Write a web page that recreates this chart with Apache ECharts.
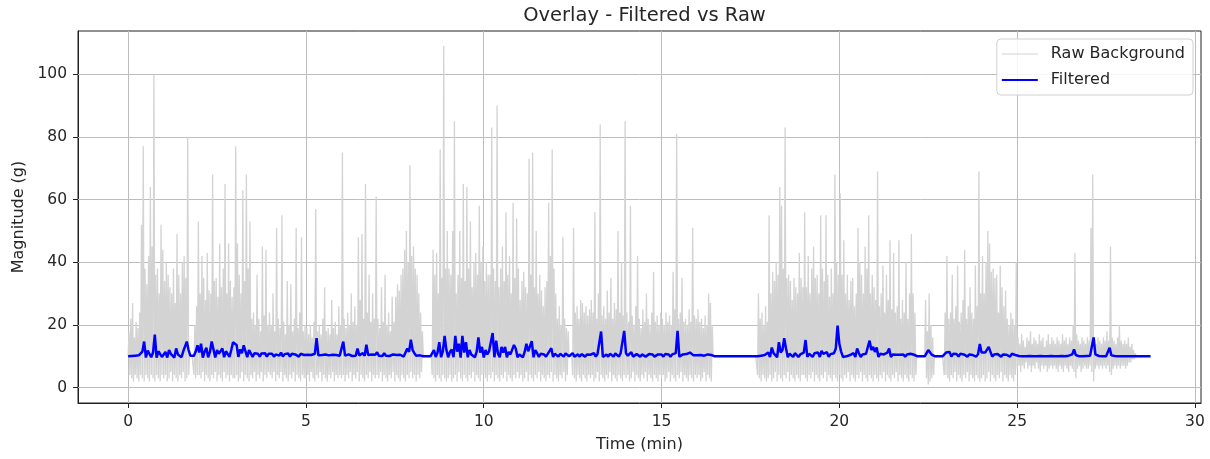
<!DOCTYPE html>
<html>
<head>
<meta charset="utf-8">
<script src="https://cdn.jsdelivr.net/npm/echarts@6/dist/echarts.min.js"></script>
<style>
html,body{margin:0;padding:0;background:#fff;}
#chart{width:1210px;height:459px;}
</style>
</head>
<body>
<div id="chart"></div>
<script>
// Sample spacing (minutes)
const rawStepMin = 0.025;
const filteredStepMin = 0.05;

// Raw magnitude (g), one row per minute (40 samples per row)
const rawMagnitude = [
  10,18,4,22,3,27,2,16,4,21,3,19,2,24,4,52,3,77,2,38,4,33,3,42,2,64,4,45,3,100,2,36,4,38,3,30,2,52,4,44,   // 0
  3,34,4,40,2,36,3,32,5,30,2,38,4,27,3,49,2,36,4,30,3,40,5,42,2,35,3,80,4,10,10,10,10,10,4,20,3,26,4,53,   // 1
  4,30,3,42,5,35,2,28,4,43,3,31,2,30,4,68,3,34,5,35,2,29,4,46,3,32,2,38,5,65,3,30,4,46,2,34,4,29,3,32,     // 2
  3,77,4,46,2,36,3,30,5,63,2,34,4,68,3,38,2,53,4,22,3,24,5,20,2,36,4,22,3,18,5,45,2,23,4,44,3,20,5,24,     // 3
  4,20,3,30,5,18,2,51,4,22,3,19,5,55,2,21,4,17,3,34,2,20,4,33,3,18,5,22,2,51,4,19,3,24,2,48,4,18,3,20,     // 4
  3,19,4,17,2,20,5,16,3,21,2,57,4,18,3,20,5,17,2,22,4,32,3,18,2,19,4,17,3,28,5,19,2,21,4,17,3,26,4,20,     // 5
  3,75,4,22,2,19,4,24,3,20,5,30,2,21,4,26,3,20,5,48,2,28,4,49,3,22,2,65,4,24,3,36,5,21,2,30,4,22,3,61,     // 6
  4,22,3,19,5,32,2,21,4,36,3,20,2,24,4,18,3,29,5,21,2,29,4,33,3,31,2,36,4,38,3,44,2,50,4,40,3,71,5,42,     // 7
  3,45,4,38,2,36,4,30,3,24,5,18,10,10,10,10,10,10,10,10,10,10,4,44,3,36,2,43,4,30,3,76,2,35,4,109,3,38,2,50, // 8
  3,38,4,36,2,50,3,85,4,30,2,36,5,50,3,35,2,65,4,34,3,64,2,38,4,53,3,32,5,40,2,43,4,36,3,58,2,40,4,45,     // 9
  4,34,3,40,2,36,4,36,3,83,5,38,2,34,4,90,3,32,2,38,4,45,3,34,5,56,2,36,4,42,3,30,2,59,4,35,3,54,5,38,     // 10
  3,28,4,34,2,37,3,32,5,30,2,73,4,36,3,75,2,32,4,50,3,30,5,36,2,31,4,26,3,32,2,34,4,59,3,42,5,76,2,38,     // 11
  4,30,3,22,2,26,4,20,3,48,5,22,2,19,4,18,10,10,10,10,4,51,3,24,2,26,4,22,3,28,2,27,4,24,3,26,2,23,4,25,   // 12
  3,28,4,24,2,56,3,22,5,30,2,84,4,23,3,26,2,22,4,31,3,24,5,35,2,22,4,27,3,25,2,50,4,24,3,40,2,23,4,85,     // 13
  3,24,4,21,2,58,3,23,5,20,2,26,4,42,3,22,2,19,4,25,3,21,5,30,2,22,4,20,3,24,2,37,4,21,3,23,2,20,4,24,     // 14
  3,22,4,20,2,24,3,21,5,23,2,20,4,37,3,25,2,81,4,22,3,24,5,35,2,21,4,22,3,20,2,25,4,21,3,51,2,23,4,22,     // 15
  3,25,4,21,2,22,3,19,5,23,2,20,4,30,3,27,2,20,10,10,10,10,10,10,10,10,10,10,10,10,10,10,10,10,10,10,10,10,10,10, // 16
  10,10,10,10,10,10,10,10,10,10,10,10,10,10,10,10,10,10,10,10,10,10,10,10,10,10,10,10,4,30,3,22,2,24,4,20,3,26,2,21, // 17
  3,55,4,30,2,37,3,34,5,40,2,36,4,64,3,58,2,38,4,83,3,35,5,36,2,34,4,28,3,35,2,32,4,30,3,43,2,35,4,32,     // 18
  4,56,3,32,2,42,4,30,3,38,5,45,2,35,4,36,3,30,2,55,4,38,3,34,5,55,2,36,4,29,3,38,2,30,4,68,3,40,2,36,     // 19
  4,62,3,36,2,47,4,30,3,36,5,28,2,34,4,35,3,26,2,30,4,51,3,40,5,36,2,30,4,45,3,38,2,55,4,30,3,36,2,32,     // 20
  4,28,3,69,2,26,4,30,3,39,5,24,2,36,4,28,3,47,2,25,4,43,3,24,5,26,2,47,4,22,3,28,2,24,4,40,3,22,2,30,     // 21
  4,49,3,30,2,24,4,10,10,10,10,10,10,10,10,10,10,28,3,18,1,30,2,20,3,16,4,10,10,10,10,10,10,10,10,10,10,10,4,24, // 22
  4,42,3,22,2,24,4,36,3,22,5,26,2,39,4,21,3,24,2,28,4,44,3,22,5,26,2,32,4,24,3,22,2,39,4,26,3,69,2,30,     // 23
  3,42,4,30,2,40,3,50,5,46,2,37,4,38,3,35,2,36,4,24,3,39,5,32,2,26,4,31,3,22,2,20,4,24,3,22,2,20,4,40,     // 24
  6,16,7,14,5,17,7,15,6,13,8,16,6,15,7,18,5,14,7,16,6,15,8,14,6,17,5,15,7,16,6,13,7,15,5,17,6,14,7,16,     // 25
  6,15,7,14,6,16,5,15,7,14,6,17,5,15,7,16,6,14,5,16,7,15,6,20,5,43,3,17,6,15,7,14,5,16,6,15,7,14,6,16,     // 26
  6,15,7,51,5,68,2,16,6,14,7,16,6,15,7,14,6,16,7,15,6,18,7,15,5,45,4,16,6,15,7,14,6,16,7,20,6,15,7,14,     // 27
  7,15,6,14,7,16,8,13,8,14,9,12,9,11,10,10,10,10,10,10,10,10,10,10,10,10,10,10,10,10,10                    // 28
];

// Filtered magnitude (g), 0.05-min samples
const filteredMagnitude = [
  10,10,10.1,10,10.2,10,10.3,9.8,11.5,14.7,9.6,11.8,12,9.7,11.2,16.9,9.6,11.6,11.2,9.8,
  10.6,11.4,9.6,12,10.8,11.2,9.6,12.5,10.6,11.2,9.7,11.6,11.9,14.7,12,10.2,10,10.2,11.5,13.5,
  11.2,14,9.6,11.5,12.7,9.7,11.4,14.7,12.2,9.6,12,10.8,11.2,12.5,9.7,11.6,12.2,9.8,12,14.5,
  14.2,13.6,9.8,12.2,11,13.5,13.2,9.7,12,11.4,9.8,11,10.4,10.8,9.9,10.9,10.4,11,9.9,10.8,
  10.3,10.8,9.9,10.6,11,10.2,11.2,9.9,10.7,10.2,10.9,9.9,10.8,10.2,10.6,11.2,9.9,10.8,10.2,10.4,
  10.2,10.5,10.1,10.4,10.2,10.8,15.8,10.3,10.2,10.4,10.1,10.6,10.2,10.3,10.1,10.5,10.2,10.4,10.3,10.2,
  10.3,14.7,10.2,10.2,10.6,10.8,10.1,10.5,10.2,12.5,10.3,10.3,11,10.2,13.7,10.4,10.4,10.6,10.3,10.5,
  11.3,10.2,10.6,10.1,11,10.2,10.6,10.1,10.5,10.6,10.1,10.4,10.2,10.5,11,9.9,11.2,12.5,11.4,15.3,
  12,11,10.2,10.6,10.3,10.1,10,10,10,10,10,10.3,12,9.8,11.2,14.5,9.7,11.6,16.5,12,
  9.7,11.4,12.2,9.7,16.5,11.5,14,9.6,16.5,11.2,14.5,9.7,12,10.6,11,9.7,11.4,16,11.2,13,
  9.6,12,10.6,11.6,11.2,17.4,9.7,15,10.8,9.7,13,11.2,13,9.7,11.4,10.6,11.2,13.6,12.5,9.7,
  10.6,11.2,9.7,11.4,14,11.6,12.2,14.8,9.7,12,11,9.8,10.8,10.4,10.6,9.9,10.8,11.2,12.6,9.8,
  10.8,11,9.9,10.8,11,9.9,10.9,10.4,10,10.1,11,9.9,10.3,10.6,9.9,10.7,10.5,9.9,10.6,10.4,
  10.5,10.7,11,9.9,10.8,10.6,17.9,9.8,10.4,10.6,9.9,10.8,11,9.9,10.9,11.5,9.9,11,10.7,18.1,
  11,10.2,10.8,11.3,9.9,10.5,10.7,10.9,9.9,10.6,10.7,9.9,10.5,10.7,10.4,10.6,9.9,10.4,10.6,
  10.5,10.6,9.9,10.7,10.5,10.6,9.9,10.6,10.8,11,18.1,9.9,10.5,10.6,10.4,10.7,10.9,11.2,11.7,10.3,
  10.6,10.3,10.7,10.4,10.6,10.2,10.4,10.6,10.2,10.4,10.2,10,10,10,10,10,10,10,10,10,
  10,10,10,10,10,10,10,10,10,10,10,10,10,10,10,10,10.4,10.2,10.6,10.4,
  10.8,11.2,9.8,12.8,11,11.6,9.7,14.5,11.2,12,15.8,12.5,9.7,10.8,11,9.8,11,10.7,9.8,10.6,
  10.8,11.2,15.2,9.8,10.8,11.2,9.8,11,10.8,11.2,9.8,11.7,10.8,11,11.3,9.8,10.7,10.5,11,12.5,
  19.8,14,11.5,9.8,10.4,10,10.6,10.4,10.8,11,9.8,12.5,11,9.8,10.6,11.2,10.8,11.4,15,12,
  13,11.4,12.8,9.8,10.8,11.2,10.6,10.9,11.2,12.5,9.8,10.6,10.7,10.5,9.9,10.5,10.4,10.6,9.9,10.6,
  10.6,10.8,11,10.5,10.3,10,10,10,10,10,10.2,12,11.8,10.5,10.3,10,10,10,10,10,
  10.2,11.2,10.8,11.4,9.9,10.8,10.5,10.7,9.9,10.8,10.5,10.6,10.8,9.9,10.6,10.5,10.4,10.6,9.9,10.7,
  13.9,11.2,10.8,11.2,11,13,11.4,9.9,10.6,10.5,10.7,10.4,9.9,10.6,10.4,10.5,10.6,9.9,10.8,11,
  10.4,10.2,10.1,10,10,10.1,10,10,10.1,10,10,10.1,10,10,10.1,10,10,10.1,10,
  10,10.1,10,10,10.1,10,10,10.1,10,10,10.1,10.2,10.3,10.6,12.2,10.4,10.1,10,10,10,
  10,10.1,10,10.2,10.6,16,10.6,10.2,10.1,10,10,10.1,10,10.4,12.7,10.3,10,10.1,10,10,
  10,10,10,10,10,10,10,10,10,10,10,10,10,10,10,10,10,10
];

// Axis ticks and ranges
const xTicks = [0, 5, 10, 15, 20, 25, 30];
const yTicks = [0, 20, 40, 60, 80, 100];
const xRange = [-1.41, 30.17];
const yRange = [-4.9, 113.8];

const toPairs = (arr, step) => arr.map((v, i) => [Math.round(i * step * 1000) / 1000, v]);

const FONT = 'DejaVu Sans';
const TXT = '#262626';

const chart = echarts.init(document.getElementById('chart'), null, {renderer: 'canvas'});
chart.setOption({
  animation: false,
  backgroundColor: '#ffffff',
  title: {
    text: 'Overlay - Filtered vs Raw',
    left: 639.5,
    textAlign: 'center',
    top: 1,
    textStyle: {fontFamily: FONT, fontSize: 19.5, fontWeight: 'normal', color: TXT}
  },
  grid: {
    left: 78, right: 9, top: 31, bottom: 56,
    show: true, borderColor: '#222', borderWidth: 1, backgroundColor: 'transparent'
  },
  legend: {
    orient: 'vertical',
    right: 17, top: 39,
    padding: [6, 8, 6, 4],
    itemWidth: 36, itemHeight: 14, itemGap: 8,
    backgroundColor: 'rgba(255,255,255,0.85)',
    borderColor: '#d0d0d0', borderWidth: 1, borderRadius: 4,
    itemStyle: {opacity: 0},
    data: [
      {name: 'Raw Background', lineStyle: {width: 1, color: '#d3d3d3'}},
      {name: 'Filtered', lineStyle: {width: 2, color: '#0000ff'}}
    ],
    textStyle: {fontFamily: FONT, fontSize: 16, color: TXT, lineHeight: 18, padding: [0, 0, 0, 8]}
  },
  xAxis: {
    type: 'value', min: xRange[0], max: xRange[1],
    name: 'Time (min)', nameLocation: 'middle', nameGap: 34,
    nameTextStyle: {fontFamily: FONT, fontSize: 16, color: TXT},
    axisLine: {show: true, onZero: false, lineStyle: {color: '#222', width: 1}},
    axisTick: {show: true, length: 5, lineStyle: {color: '#222'}, customValues: xTicks},
    axisLabel: {fontFamily: FONT, fontSize: 15.5, color: TXT, margin: 11, customValues: xTicks},
    splitLine: {show: false}
  },
  yAxis: {
    type: 'value', min: yRange[0], max: yRange[1],
    name: 'Magnitude (g)', nameLocation: 'middle', nameGap: 50, nameRotate: 90,
    nameTextStyle: {fontFamily: FONT, fontSize: 16, color: TXT},
    axisLine: {show: true, onZero: false, lineStyle: {color: '#222', width: 1}},
    axisTick: {show: true, length: 5, lineStyle: {color: '#222'}, customValues: yTicks},
    axisLabel: {fontFamily: FONT, fontSize: 15.5, color: TXT, margin: 11, customValues: yTicks},
    splitLine: {show: false}
  },
  series: [
    {
      name: 'gridlines', type: 'line', data: [[0, 0]], symbol: 'none',
      lineStyle: {opacity: 0}, silent: true, z: 1,
      markLine: {
        silent: true, symbol: 'none', z: 1, animation: false,
        label: {show: false},
        lineStyle: {color: '#bdbdbd', width: 1, type: 'solid'},
        data: xTicks.map(v => ({xAxis: v})).concat(yTicks.map(v => ({yAxis: v})))
      }
    },
    {
      name: 'Raw Background', type: 'line', data: toPairs(rawMagnitude, rawStepMin),
      symbol: 'none', showSymbol: false, sampling: null, z: 2,
      lineStyle: {color: '#d3d3d3', width: 1.3},
      itemStyle: {color: '#d3d3d3'}
    },
    {
      name: 'Filtered', type: 'line', data: toPairs(filteredMagnitude, filteredStepMin),
      symbol: 'none', showSymbol: false, z: 3,
      lineStyle: {color: '#0000ff', width: 2.5},
      itemStyle: {color: '#0000ff'}
    }
  ]
});
</script>
</body>
</html>
